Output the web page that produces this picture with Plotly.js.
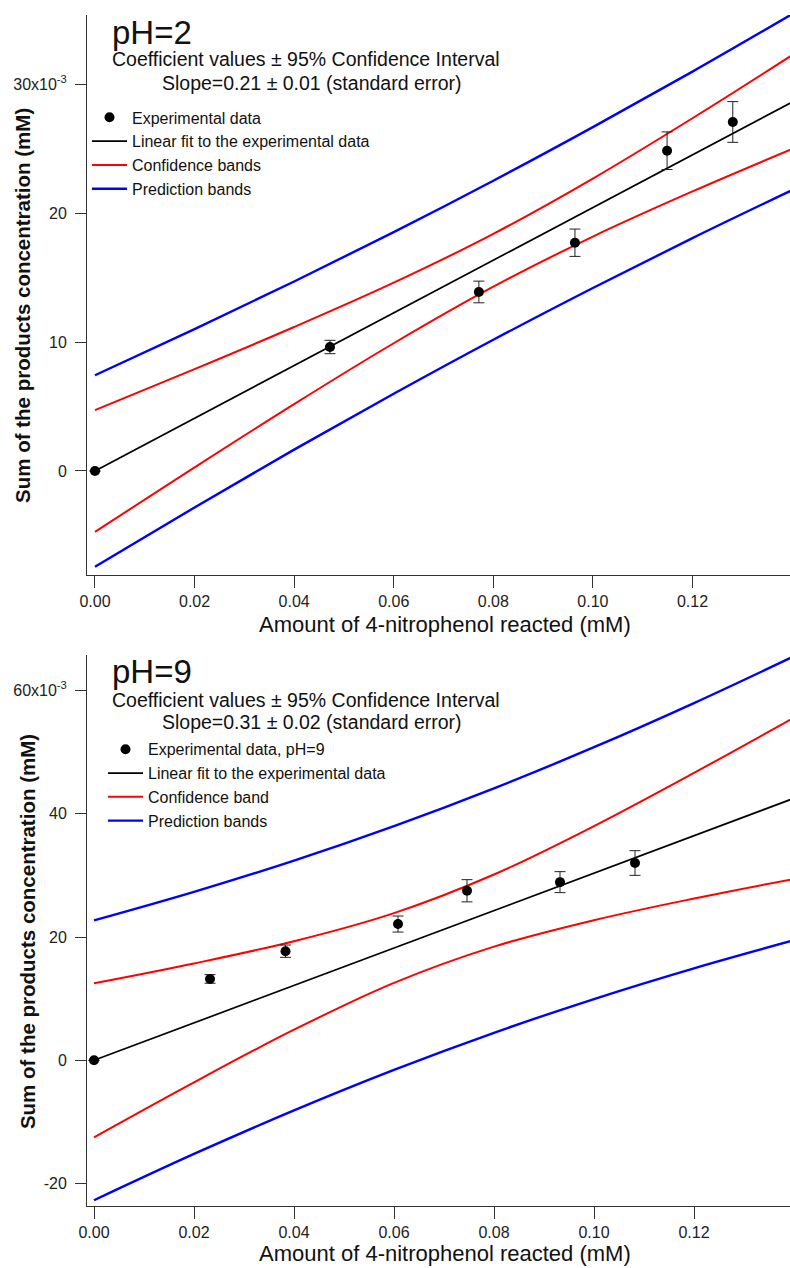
<!DOCTYPE html>
<html><head><meta charset="utf-8">
<script src="https://cdn.plot.ly/plotly-3.0.1.min.js"></script>
<style>html,body{margin:0;padding:0;background:#fff;}#chart{width:790px;height:1268px;}</style>
</head><body><div id="chart"></div>
<script>
// ---------- pH = 2 (top panel) ----------
const ph2X   = [0, 0.0472, 0.0771, 0.0964, 0.1149, 0.1281];
const ph2Y   = [0, 0.00962, 0.01389, 0.01771, 0.02485, 0.02708];
const ph2Err = [0, 0.00052, 0.00084, 0.00106, 0.00146, 0.00158];

const bandX = [0, 0.02, 0.04, 0.06, 0.08, 0.10, 0.12, 0.14];
const ph2Fit    = [0, 0.00409, 0.00818, 0.01226, 0.01635, 0.02044, 0.02453, 0.02862];
const ph2ConfUp = [0.00472, 0.00790, 0.01117, 0.01461, 0.01840, 0.02269, 0.02737, 0.03226];
const ph2ConfLo = [-0.00472, 0.00028, 0.00519, 0.00991, 0.01430, 0.01819, 0.02169, 0.02498];
const ph2PredUp = [0.00743, 0.01101, 0.01470, 0.01853, 0.02252, 0.02668, 0.03099, 0.03545];
const ph2PredLo = [-0.00743, -0.00283, 0.00166, 0.00599, 0.01018, 0.01420, 0.01807, 0.02179];

// ---------- pH = 9 (bottom panel) ----------
const ph9X   = [0, 0.0232, 0.0383, 0.0608, 0.0746, 0.0932, 0.1082];
const ph9Y   = [0, 0.0132, 0.0177, 0.0221, 0.0275, 0.0289, 0.0320];
const ph9Err = [0, 0.0007, 0.0010, 0.0013, 0.0018, 0.0017, 0.0020];
const ph9Fit    = [0, 0.00607, 0.01214, 0.01822, 0.02429, 0.03036, 0.03643, 0.04250];
const ph9ConfUp = [0.01249, 0.01571, 0.01932, 0.02388, 0.03014, 0.03799, 0.04662, 0.05558];
const ph9ConfLo = [-0.01249, -0.00357, 0.00496, 0.01256, 0.01844, 0.02273, 0.02624, 0.02942];
const ph9PredUp = [0.02270, 0.02733, 0.03240, 0.03799, 0.04412, 0.05078, 0.05794, 0.06553];
const ph9PredLo = [-0.02270, -0.01519, -0.00812, -0.00155, 0.00446, 0.00994, 0.01492, 0.01947];

// tick labels
const xTickVals = [0, 0.02, 0.04, 0.06, 0.08, 0.10, 0.12];
const xTickText = ['0.00', '0.02', '0.04', '0.06', '0.08', '0.10', '0.12'];
const y1TickVals = [0, 0.01, 0.02, 0.03];
const y1TickText = ['0', '10', '20', '30x10<sup>-3</sup>'];
const y2TickVals = [-0.02, 0, 0.02, 0.04, 0.06];
const y2TickText = ['-20', '0', '20', '40', '60x10<sup>-3</sup>'];

const FONT = 'Liberation Sans, Arial, sans-serif';
const RED = '#ff0000', BLUE = '#0000ff';

function panel(xa, ya, leg, X, Y, E, fit, cu, cl, pu, pl, names) {
  const t = [];
  t.push({x: bandX, y: pu, xaxis: xa, yaxis: ya, mode: 'lines', name: names[3], legend: leg, legendrank: 4,
          legendgroup: leg + 'p', line: {color: BLUE, width: 2.4, shape: 'spline'}});
  t.push({x: bandX, y: pl, xaxis: xa, yaxis: ya, mode: 'lines', name: names[3], legend: leg, showlegend: false,
          legendgroup: leg + 'p', line: {color: BLUE, width: 2.4, shape: 'spline'}});
  t.push({x: bandX, y: cu, xaxis: xa, yaxis: ya, mode: 'lines', name: names[2], legend: leg, legendrank: 3,
          legendgroup: leg + 'c', line: {color: RED, width: 2, shape: 'spline'}});
  t.push({x: bandX, y: cl, xaxis: xa, yaxis: ya, mode: 'lines', name: names[2], legend: leg, showlegend: false,
          legendgroup: leg + 'c', line: {color: RED, width: 2, shape: 'spline'}});
  t.push({x: bandX, y: fit, xaxis: xa, yaxis: ya, mode: 'lines', name: names[1], legend: leg, legendrank: 2,
          line: {color: '#000', width: 1.7}});
  t.push({x: X, y: Y, xaxis: xa, yaxis: ya, mode: 'markers', name: names[0], legend: leg, legendrank: 1,
          marker: {color: '#000', size: 10},
          error_y: {type: 'data', array: E, visible: true, color: '#222', thickness: 1, width: 5.5}});
  return t;
}

const traces = [].concat(
  panel('x', 'y', 'legend', ph2X, ph2Y, ph2Err, ph2Fit, ph2ConfUp, ph2ConfLo, ph2PredUp, ph2PredLo,
        ['Experimental data', 'Linear fit to the experimental data', 'Confidence bands', 'Prediction bands']),
  panel('x2', 'y2', 'legend2', ph9X, ph9Y, ph9Err, ph9Fit, ph9ConfUp, ph9ConfLo, ph9PredUp, ph9PredLo,
        ['Experimental data, pH=9', 'Linear fit to the experimental data', 'Confidence band', 'Prediction bands'])
);

const axisCommon = {
  showline: true, linecolor: '#333', linewidth: 1, ticks: 'outside', tickcolor: '#333', tickwidth: 1,
  showgrid: false, zeroline: false, tickfont: {family: FONT, size: 16, color: '#222'}, automargin: false
};

function ann(x, y, text, size, extra) {
  return Object.assign({xref: 'paper', yref: 'paper', x: x, y: y, xanchor: 'center', yanchor: 'middle',
    showarrow: false, text: text, font: {family: FONT, size: size, color: '#111'}}, extra || {});
}

const layout = {
  width: 790, height: 1268,
  margin: {l: 87, r: 0, t: 15, b: 62},
  paper_bgcolor: '#fff', plot_bgcolor: '#fff',
  showlegend: true,
  xaxis: Object.assign({}, axisCommon, {domain: [0, 1], anchor: 'y', range: [-0.0016, 0.13959], ticklen: 12,
          tickvals: xTickVals, ticktext: xTickText}),
  yaxis: Object.assign({}, axisCommon, {domain: [0.52981, 1], anchor: 'x', range: [-0.00807, 0.03538], ticklen: 11,
          ticklabelstandoff: 5, tickvals: y1TickVals, ticktext: y1TickText}),
  xaxis2: Object.assign({}, axisCommon, {domain: [0, 1], anchor: 'y2', range: [-0.0014, 0.1392], ticklen: 12,
          tickvals: xTickVals, ticktext: xTickText}),
  yaxis2: Object.assign({}, axisCommon, {domain: [0, 0.46264], anchor: 'x2', range: [-0.02363, 0.06574], ticklen: 11,
          ticklabelstandoff: 5, tickvals: y2TickVals, ticktext: y2TickText}),
  legend: {x: 0, xanchor: 'left', y: 0.9283, yanchor: 'top', bgcolor: 'rgba(0,0,0,0)', borderwidth: 0,
           itemwidth: 35, font: {family: FONT, size: 16, color: '#111'}, tracegroupgap: 0},
  legend2: {x: 0.02276, xanchor: 'left', y: 0.3977, yanchor: 'top', bgcolor: 'rgba(0,0,0,0)', borderwidth: 0,
           itemwidth: 35, font: {family: FONT, size: 16, color: '#111'}, tracegroupgap: 0},
  annotations: [
    ann(0.0327, 0.9857, 'pH=2', 33, {xanchor: 'left'}),
    ann(0.3115, 0.9631, 'Coefficient values ± 95% Confidence Interval', 19.5),
    ann(0.3201, 0.9429, 'Slope=0.21 ± 0.01 (standard error)', 19.5),
    ann(0.0327, 0.4492, 'pH=9', 33, {xanchor: 'left'}),
    ann(0.3115, 0.4249, 'Coefficient values ± 95% Confidence Interval', 19.5),
    ann(0.3201, 0.4064, 'Slope=0.31 ± 0.02 (standard error)', 19.5),
    ann(0.5094, 0.4885, 'Amount of 4-nitrophenol reacted (mM)', 22),
    ann(0.5094, -0.0400, 'Amount of 4-nitrophenol reacted (mM)', 22),
    ann(-0.0925, 0.7565, '<b>Sum of the products concentration (mM)</b>', 20.5, {textangle: -90}),
    ann(-0.0853, 0.2300, '<b>Sum of the products concentration (mM)</b>', 20.5, {textangle: -90})
  ]
};

Plotly.newPlot('chart', traces, layout, {displayModeBar: false, staticPlot: true});
</script>
</body></html>
